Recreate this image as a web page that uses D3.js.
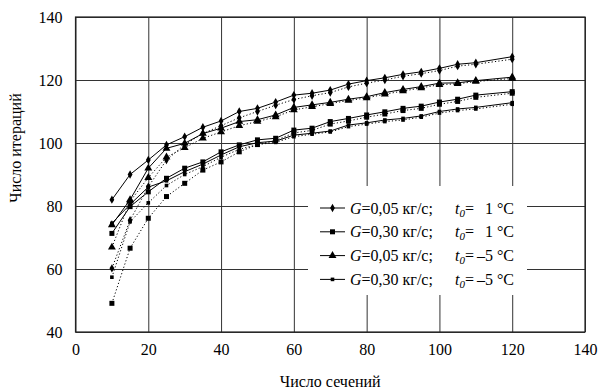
<!DOCTYPE html>
<html>
<head>
<meta charset="utf-8">
<script src="https://cdn.jsdelivr.net/npm/d3@7"></script>
<style>
  body { margin: 0; background: #fff; }
</style>
</head>
<body>
<div id="chart"></div>
<script>
// x values (число сечений), 115 is not measured
const sections = [10, 15, 20, 25, 30, 35, 40, 45, 50, 55, 60, 65, 70, 75, 80, 85, 90, 95, 100, 105, 110, 120];

// solid curves (legend entries)
const g005t1 = [82, 90, 94.6, 99.4, 102, 105, 107, 110, 111, 113, 115.2, 115.8, 116.8, 118.7, 119.8, 120.7, 121.8, 122.6, 123.7, 125, 125.5, 127.4];
const g030t1 = [71.3, 79.8, 84.5, 88.8, 92, 94, 97.2, 99.4, 101, 101.5, 104.1, 104.7, 106.8, 107.8, 108.9, 109.9, 111, 111.7, 113, 113.9, 115.2, 116.3];
const g005t5 = [74, 82, 92, 98.3, 99.9, 103, 104.7, 106.8, 107.4, 108.9, 111.3, 112.1, 112.9, 113.9, 114.7, 116, 117, 117.9, 119, 119.1, 119.8, 120.9];
const g030t5 = [74.5, 80.5, 86, 88, 90.9, 93.3, 96.2, 98.8, 100.1, 100.6, 102.5, 103.1, 103.8, 105.7, 106.4, 107.3, 107.8, 108.6, 110, 110.8, 111.3, 112.8];

// dotted companion curves
const g005t1dot = [60.2, 75.5, 86.1, 94.6, 99.5, 103, 105.5, 108, 110, 112, 113.8, 115, 116, 117.8, 119, 120, 121.2, 122, 123, 124.4, 125, 126.6];
const g030t1dot = [49.1, 66.6, 76.1, 83, 87.2, 91.4, 94, 97.2, 99.5, 100.8, 103.2, 104, 106, 107, 108.2, 109.2, 110.3, 111, 112.3, 113.2, 114.5, 115.8];
const g005t5dot = [66.9, 81.5, 89, 95.5, 98.5, 101.5, 103.5, 105.5, 106.8, 108.3, 110.5, 111.5, 112.5, 113.5, 114.3, 115.5, 116.5, 117.5, 118.5, 118.8, 119.5, 120.5];
const g030t5dot = [57.4, 75, 81, 86.5, 90, 92.5, 95.5, 98, 99.5, 100.2, 102, 102.8, 103.5, 105.2, 106, 106.8, 107.3, 108.2, 109.5, 110.3, 110.8, 112.3];

const xTicks = [0, 20, 40, 60, 80, 100, 120, 140];
const yTicks = [40, 60, 80, 100, 120, 140];

const legendG = ["=0,05 кг/с;", "=0,30 кг/с;", "=0,05 кг/с;", "=0,30 кг/с;"];
const legendT = ["1 °C", "1 °C", "–5 °C", "–5 °C"];

const FONT = "'Times New Roman', 'Liberation Serif', 'DejaVu Serif', serif";
const FS = 16;

const W = 600, H = 389;
const margin = { top: 17, right: 15, bottom: 57, left: 75.5 };
const w = W - margin.left - margin.right;
const h = H - margin.top - margin.bottom;

const svg = d3.select("#chart").append("svg").attr("width", W).attr("height", H)
  .attr("font-family", FONT);
const root = svg.append("g").attr("transform", `translate(${margin.left},${margin.top})`);

const x = d3.scaleLinear().domain([0, 140]).range([0, w]);
const y = d3.scaleLinear().domain([40, 140]).range([h, 0]);

// grid + tick labels through the axes
const xAxisG = root.append("g").attr("transform", `translate(0,${h})`)
  .call(d3.axisBottom(x).tickValues(xTicks).tickSize(-h).tickPadding(12).tickFormat(d3.format("d")));
const yAxisG = root.append("g")
  .call(d3.axisLeft(y).tickValues(yTicks).tickSize(-w).tickPadding(13).tickFormat(d3.format("d")));
[xAxisG, yAxisG].forEach(g => {
  g.attr("font-family", FONT).attr("font-size", FS);
  g.select(".domain").remove();
  g.selectAll(".tick line").attr("stroke", "#333").attr("stroke-width", 1);
  g.selectAll(".tick text").attr("fill", "#000");
});
root.append("rect").attr("width", w).attr("height", h)
  .attr("fill", "none").attr("stroke", "#222").attr("stroke-width", 1.2);

// axis titles
svg.append("text").attr("x", margin.left + x(70)).attr("y", 387)
  .attr("text-anchor", "middle").attr("font-size", FS).text("Число сечений");
svg.append("text").attr("transform", "translate(21,148) rotate(-90)")
  .attr("text-anchor", "middle").attr("font-size", FS).text("Число итераций");

const sym = {
  diamond: d3.symbol().type(d3.symbolDiamond).size(20)(),
  square: d3.symbol().type(d3.symbolSquare).size(25)(),
  triangle: d3.symbol().type(d3.symbolTriangle).size(27)(),
  small: d3.symbol().type(d3.symbolSquare).size(13)()
};

const series = [
  { vals: g005t1dot, mark: "diamond", dash: "1.2,2.2" },
  { vals: g030t1dot, mark: "square", dash: "1.2,2.2" },
  { vals: g005t5dot, mark: "triangle", dash: "1.2,2.2" },
  { vals: g030t5dot, mark: "small", dash: "1.2,2.2" },
  { vals: g005t1, mark: "diamond", dash: null },
  { vals: g030t1, mark: "square", dash: null },
  { vals: g005t5, mark: "triangle", dash: null },
  { vals: g030t5, mark: "small", dash: null }
];

const line = d3.line().x(d => x(d[0])).y(d => y(d[1]));
const plot = root.append("g");
series.forEach(s => {
  const pts = sections.map((xv, i) => [xv, s.vals[i]]);
  plot.append("path").datum(pts).attr("d", line)
    .attr("fill", "none").attr("stroke", "#000").attr("stroke-width", 1)
    .attr("stroke-dasharray", s.dash);
  plot.selectAll(null).data(pts).enter().append("path")
    .attr("d", sym[s.mark])
    .attr("transform", d => `translate(${x(d[0])},${y(d[1])})`)
    .attr("fill", "#000");
});

// legend
const lg = svg.append("g").attr("font-size", FS);
lg.append("rect").attr("x", 308).attr("y", 186).attr("width", 219).attr("height", 109).attr("fill", "#fff");
const marks = ["diamond", "square", "triangle", "small"];
marks.forEach((m, i) => {
  const cy = 208 + i * 23.8;
  lg.append("line").attr("x1", 320).attr("x2", 345).attr("y1", cy).attr("y2", cy)
    .attr("stroke", "#000").attr("stroke-width", 1);
  lg.append("path").attr("d", sym[m]).attr("transform", `translate(332.5,${cy})`).attr("fill", "#000");
  const t = lg.append("text").attr("x", 350).attr("y", cy + 5.5);
  t.append("tspan").attr("font-style", "italic").text("G");
  t.append("tspan").text(legendG[i]);
  const t2 = lg.append("text").attr("x", 455).attr("y", cy + 5.5);
  t2.append("tspan").attr("font-style", "italic").text("t");
  t2.append("tspan").attr("font-style", "italic").attr("font-size", 11).attr("dy", 3).text("0");
  t2.append("tspan").attr("dy", -3).text("=");
  lg.append("text").attr("x", 514).attr("y", cy + 5.5)
    .attr("text-anchor", "end").text(legendT[i]);
});
</script>
</body>
</html>
